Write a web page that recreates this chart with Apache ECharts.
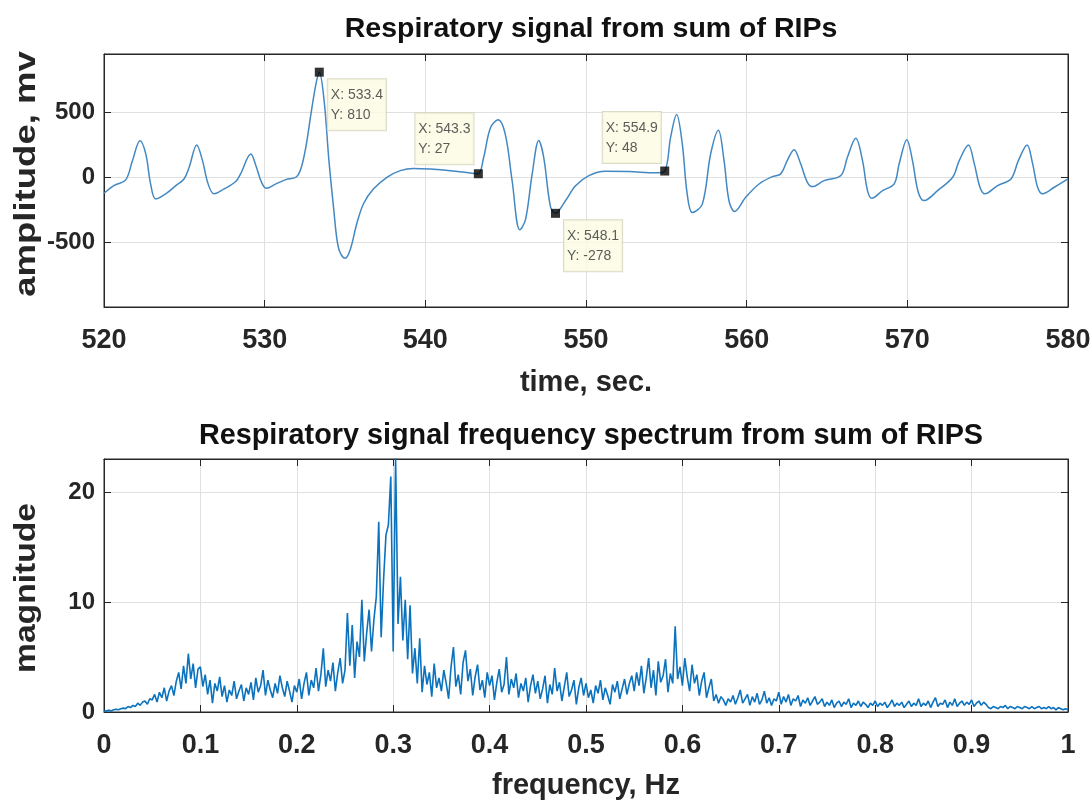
<!DOCTYPE html>
<html><head><meta charset="utf-8">
<script src="https://cdn.jsdelivr.net/npm/echarts@6/dist/echarts.min.js"></script>
<style>html,body{margin:0;padding:0;background:#fff}#c{width:1092px;height:808px}</style>
</head><body><div id="c"></div>
<script>
// ---- top plot data: respiratory signal (time in s, amplitude in mV) ----
const timeSec = [520.0,520.62,521.35,521.77,522.24,522.6,522.9,523.22,523.84,524.47,524.98,525.3,525.77,526.13,526.48,526.85,527.48,528.2,528.5,529.14,529.45,529.8,530.11,530.7,531.32,531.94,532.25,532.56,532.88,533.19,533.4,533.7,534.0,534.3,534.5,534.7,535.01,535.33,535.74,536.16,536.78,537.61,538.44,539.27,540.31,541.56,542.8,543.3,543.63,544.05,544.53,544.98,545.4,545.88,546.23,546.65,547.06,547.37,547.79,548.1,548.72,549.35,550.18,551.2,552.67,554.33,554.9,555.27,555.64,555.99,556.3,556.62,557.24,557.76,558.24,558.59,558.9,559.25,559.94,560.77,561.6,562.12,562.53,562.95,563.36,563.78,564.09,564.82,565.86,566.27,566.79,567.21,567.52,567.79,568.46,569.18,569.49,569.97,570.32,570.68,571.05,571.88,572.82,573.23,573.8,574.17,574.52,574.83,575.62,576.45,576.91,577.45,577.8,578.11,578.42,579.15,580.0];
const amplitude = [-123,-64,-20,128,282,180,-51,-167,-128,-64,-13,77,249,128,-51,-128,-90,-33,26,179,90,-38,-85,-51,-18,0,64,231,487,718,810,590,128,-250,-480,-582,-625,-557,-354,-202,-89,0,51,68,63,51,33,27,152,380,443,329,-25,-405,-329,25,283,152,-228,-278,-181,-65,13,47,44,34,48,311,484,259,-130,-272,-207,181,363,130,-181,-264,-155,-52,5,26,130,212,104,-39,-72,-26,13,154,300,128,-103,-162,-103,-51,103,290,128,-115,-180,-103,0,128,249,103,-77,-128,-64,-13,128,249,103,-77,-128,-77,-13];
const topTips = [[533.4,810],[543.3,27],[548.1,-278],[554.9,48]];
const topXTicks = {min:520, max:580, step:10};
const topYTicks = {min:-1000, max:950, step:500};

// ---- bottom plot data: frequency spectrum (Hz, magnitude) ----
const freqStep = 0.0025;
const magnitude = [
0.05,0.1,0.15,0.1,0.2,0.25,0.2,0.3,0.35,0.3,0.5,0.4,0.6,0.5,0.8,0.6,0.9,1.0,0.7,1.2,
1.1,1.6,0.9,1.8,1.3,2.2,1.0,1.9,2.4,1.5,2.8,3.6,2.1,4.2,2.6,5.3,3.0,4.4,2.2,3.9,
4.1,2.3,3.4,1.6,2.9,0.8,2.6,1.9,3.2,1.4,2.4,0.9,2.0,1.5,2.8,1.2,1.9,2.5,1.0,2.2,
1.6,2.7,1.1,3.1,1.8,2.4,3.8,1.5,2.9,2.0,1.3,2.6,1.7,3.3,2.2,1.4,2.8,1.9,0.9,2.4,
1.8,3.0,1.2,2.6,3.6,1.5,2.9,2.2,4.0,1.9,3.4,5.8,2.3,3.8,2.8,4.5,1.9,3.6,4.9,2.6,
3.8,9.0,4.2,7.9,3.1,6.4,5.0,10.2,4.6,7.2,9.3,5.5,8.4,10.5,17.3,6.8,12.0,16.1,17.0,21.4,
5.5,23.07,8.0,12.3,6.5,10.2,4.8,9.7,3.5,5.8,2.6,6.7,1.8,4.2,2.5,3.6,1.4,4.4,2.2,3.1,
1.9,3.8,2.6,1.2,4.1,5.9,2.3,3.4,1.6,4.5,5.6,2.8,3.9,1.5,3.2,4.3,2.0,2.9,1.3,3.6,
2.4,3.3,1.1,2.7,3.9,1.8,2.5,5.0,1.6,3.0,2.2,3.5,1.3,2.6,1.9,3.1,0.9,2.4,3.4,1.7,
2.8,1.2,2.1,3.3,0.8,2.5,1.6,4.0,1.9,2.7,1.0,2.3,3.6,1.4,2.0,2.9,0.7,2.2,3.1,1.5,
2.6,1.3,2.0,0.8,2.4,1.7,2.9,1.1,2.2,1.5,0.7,2.5,1.8,2.8,1.2,2.1,3.0,1.6,2.6,3.3,
1.9,3.6,2.4,4.2,1.7,3.1,4.9,2.2,3.8,1.5,4.6,2.7,3.3,4.8,1.8,3.5,2.6,7.8,3.0,4.1,
2.4,4.9,3.2,1.9,4.3,2.6,3.4,1.5,2.8,3.6,1.3,2.2,3.0,1.0,1.6,0.8,1.4,1.1,0.6,1.2,
0.9,1.5,0.7,1.3,2.0,0.8,1.2,1.6,0.6,1.4,0.9,1.7,0.7,1.1,1.9,0.8,1.3,0.6,1.2,1.0,
1.8,0.7,1.4,0.9,1.6,0.6,1.2,1.0,1.5,0.5,1.1,0.8,1.3,0.6,1.0,1.4,0.7,0.9,1.2,0.5,
0.9,0.6,1.1,0.4,0.8,1.0,0.5,0.9,0.7,1.2,0.4,0.8,0.6,1.0,0.5,0.9,0.7,0.4,0.8,0.6,
1.0,0.5,0.8,0.6,0.9,0.4,0.7,1.1,0.5,0.8,0.6,0.9,0.4,0.7,1.0,0.5,0.8,0.6,1.2,0.5,
0.8,0.6,1.0,0.4,0.9,1.3,0.5,0.8,0.7,1.1,0.4,0.9,0.6,1.2,0.5,0.8,1.0,0.6,0.9,0.7,
1.1,0.5,0.8,1.0,0.6,0.9,0.7,0.4,0.3,0.5,0.4,0.3,0.5,0.4,0.6,0.3,0.5,0.4,0.3,0.5,
0.4,0.3,0.5,0.4,0.3,0.5,0.3,0.4,0.5,0.3,0.4,0.3,0.5,0.3,0.4,0.2,0.4,0.3,0.2,0.3,
0.2];
const bottomTips = [[0.3034,23.07]];
const botXTicks = {min:0, max:1, step:0.1};
const botYTicks = {min:0, max:23, step:10};

// ---- text ----
const titles = ['Respiratory signal from sum of RIPs','Respiratory signal frequency spectrum from sum of RIPS'];
const axisNames = {topX:'time, sec.', topY:'amplitude, mv', botX:'frequency, Hz', botY:'magnitude'};

// ---- build ----
const FONT = "'Liberation Sans',Arial,Helvetica,sans-serif";
const topData = timeSec.map((t,i)=>[t, amplitude[i]]);
const botData = magnitude.map((m,i)=>[+(i*freqStep).toFixed(4), m]);
const tipOffsets = [[13,11.5],[-58.5,-56],[13,11.5],[-57.5,-54.5]];
const botTipOffsets = [[12,11]];

const grids = [
  {left:104, right:24, top:54, height:253, show:true, borderColor:'#262626', borderWidth:1, outerBoundsMode:'none', containLabel:false},
  {left:104, right:24, top:459, height:253, show:true, borderColor:'#262626', borderWidth:1, outerBoundsMode:'none', containLabel:false}
];
const xTickLabel = {fontFamily:FONT, fontWeight:'bold', fontSize:27, color:'#262626'};
const yTickLabel = {fontFamily:FONT, fontWeight:'bold', fontSize:24, color:'#262626'};
const gridLine = {show:true, lineStyle:{color:'#e0e0e0', width:1}};
const axisCol = '#262626';
function xAx(gi, tk, name, gap){
  return [{
    type:'value', gridIndex:gi, min:tk.min, max:tk.max, interval:tk.step, position:'bottom',
    name:name, nameLocation:'middle', nameGap:gap,
    nameTextStyle:{fontFamily:FONT, fontWeight:'bold', fontSize:29, color:'#262626'},
    axisLine:{show:true, onZero:false, lineStyle:{color:axisCol}},
    axisTick:{show:true, inside:true, length:7, lineStyle:{color:axisCol}},
    axisLabel:Object.assign({margin:20}, xTickLabel),
    splitLine:gridLine
  },{
    type:'value', gridIndex:gi, min:tk.min, max:tk.max, interval:tk.step, position:'top',
    axisLine:{show:true, onZero:false, lineStyle:{color:axisCol}},
    axisTick:{show:true, inside:true, length:7, lineStyle:{color:axisCol}},
    axisLabel:{show:false}, splitLine:{show:false}
  }];
}
function yAx(gi, tk){
  return [{
    type:'value', gridIndex:gi, min:tk.min, max:tk.max, interval:tk.step, position:'left',
    axisLine:{show:true, onZero:false, lineStyle:{color:axisCol}},
    axisTick:{show:true, inside:true, length:7, lineStyle:{color:axisCol}},
    axisLabel:Object.assign({margin:9, showMaxLabel:false, formatter:v=> (v===tk.min && tk.min!==0) ? '' : String(v)}, yTickLabel),
    splitLine:gridLine
  },{
    type:'value', gridIndex:gi, min:tk.min, max:tk.max, interval:tk.step, position:'right',
    axisLine:{show:true, onZero:false, lineStyle:{color:axisCol}},
    axisTick:{show:true, inside:true, length:7, lineStyle:{color:axisCol}},
    axisLabel:{show:false}, splitLine:{show:false}
  }];
}
const xAxes = [...xAx(0, topXTicks, axisNames.topX, 61), ...xAx(1, botXTicks, axisNames.botX, 59)];
const yAxes = [...yAx(0, topYTicks), ...yAx(1, botYTicks)];

const tipLabel = {
  show:true, fontFamily:FONT, fontSize:14, color:'#333', lineHeight:20,
  backgroundColor:'#fbfbe4', borderColor:'#d2d2bc', borderWidth:1, padding:[6,3,5,3]
};
function tipSeries(xi, yi, tips, offs){
  return {
    type:'scatter', xAxisIndex:xi, yAxisIndex:yi, symbol:'rect', symbolSize:9,
    itemStyle:{color:'#000'}, z:5, silent:true,
    data: tips.map((p,i)=>({value:p, label:Object.assign({position:offs[i],
      formatter:'X: '+p[0]+'\nY: '+p[1]}, tipLabel)}))
  };
}
function vName(text, x, y, size, stretch){
  return {type:'text', x:x, y:y, rotation:Math.PI/2, scaleX:stretch, silent:true,
    style:{text:text, font:'bold '+size+'px '+FONT, fill:'#262626', align:'center', verticalAlign:'middle'}};
}

const option = {
  animation:false,
  backgroundColor:'#fff',
  title:[
    {text:titles[0], left:586, top:10, textAlign:'center', textStyle:{fontFamily:FONT, fontWeight:'bold', fontSize:28.5, color:'#111'}},
    {text:titles[1], left:586, top:417, textAlign:'center', textStyle:{fontFamily:FONT, fontWeight:'bold', fontSize:28.8, color:'#111'}}
  ],
  graphic:[
    vName(axisNames.topY, 27, 174, 29, 1.26),
    vName(axisNames.botY, 27, 588, 29, 1.16)
  ],
  grid:grids,
  xAxis:xAxes,
  yAxis:yAxes,
  series:[
    {type:'line', xAxisIndex:0, yAxisIndex:0, data:topData, smooth:0.35, showSymbol:false,
     lineStyle:{color:'#4288c2', width:1.5}, z:3},
    {type:'line', xAxisIndex:2, yAxisIndex:2, data:botData, smooth:false, showSymbol:false,
     lineStyle:{color:'#0b72bd', width:1.6}, z:3},
    tipSeries(0,0,topTips,tipOffsets),
    tipSeries(2,2,bottomTips,botTipOffsets)
  ]
};
echarts.init(document.getElementById('c'), null, {renderer:'canvas'}).setOption(option);
</script></body></html>
